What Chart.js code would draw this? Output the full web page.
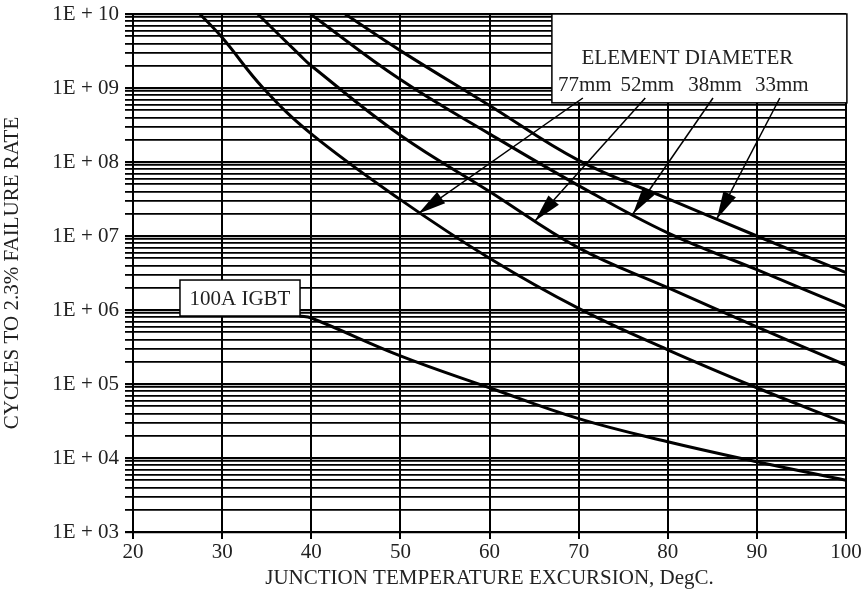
<!DOCTYPE html>
<html>
<head>
<meta charset="utf-8">
<script src="https://cdn.jsdelivr.net/npm/chart.js@4.4.1/dist/chart.umd.min.js"></script>
<style>
  body { margin: 0; background: #fff; }
  #wrap { width: 866px; height: 591px; }
</style>
</head>
<body>
<div id="wrap"><canvas id="cycles_Chart" width="866" height="591"></canvas></div>
<script>
// curves: [temperature excursion, cycles]
var igbtX = [38.7, 40, 50, 60, 70, 80, 90, 100];
var igbtY = [8.3e5, 7.8e5, 2.4e5, 8.9e4, 3.4e4, 1.66e4, 8.9e3, 5.0e3];

var d77X = [27.5, 30, 34.6, 40, 50, 60, 70, 80, 90, 100];
var d77Y = [1e10, 4.8e9, 1.0e9, 2.4e8, 3.1e7, 5.0e6, 1.05e6, 2.9e5, 8.9e4, 2.95e4];

var d52X = [34.0, 38.7, 40, 50, 60, 70, 80, 90, 100];
var d52Y = [1e10, 2.8e9, 2.0e9, 2.3e8, 4.0e7, 6.9e6, 2.0e6, 5.9e5, 1.8e5];

var d38X = [39.9, 50, 60, 70, 80, 90, 100];
var d38Y = [1e10, 1.3e9, 2.4e8, 4.8e7, 1.1e7, 3.5e6, 1.1e6];

var d33X = [43.8, 50, 60, 70, 80, 90, 100];
var d33Y = [1e10, 3.2e9, 5.8e8, 1.05e8, 3.2e7, 1.0e7, 3.2e6];

var xTicks = [20, 30, 40, 50, 60, 70, 80, 90, 100];
var yDecades = [3, 4, 5, 6, 7, 8, 9, 10];
var yTickLabels = ['1E + 03', '1E + 04', '1E + 05', '1E + 06', '1E + 07', '1E + 08', '1E + 09', '1E + 10'];

var diameters = ['77mm', '52mm', '38mm', '33mm'];
// label centre x and arrow tip (x, cycles) for each diameter
var diamLabelX = [70.7, 77.7, 85.3, 92.8];
var arrowTipX = [52.0, 65.1, 76.1, 85.5];
var arrowTipY = [2.0e7, 1.6e7, 2.0e7, 1.7e7];

function pts(xs, ys) {
    let out = new Array();
    for (let i = 0; i < xs.length; i++) {
        out.push({x: xs[i], y: ys[i]});
    }
    return out;
}

// every decade plus the 2..9 minor lines
var yTickValues = new Array();
for (let i = 0; i < yDecades.length; i++) {
    let base = Math.pow(10, yDecades[i]);
    yTickValues.push(base);
    if (i < yDecades.length - 1) {
        for (let k = 2; k <= 9; k++) yTickValues.push(k * base);
    }
}

var serif = "'Liberation Serif', 'Times New Roman', serif";
var ink = '#222';

function curve(xs, ys) {
    return {
        data: pts(xs, ys),
        borderColor: '#000',
        borderWidth: 3,
        pointRadius: 0,
        fill: false,
        tension: 0.4
    };
}

var notes = {
    id: 'notes',
    afterDatasetsDraw: function(chart) {
        let ctx = chart.ctx;
        let xs = chart.scales.x, ys = chart.scales.y;
        ctx.save();
        ctx.font = '21px ' + serif;
        ctx.fillStyle = ink;
        ctx.textAlign = 'center';
        ctx.textBaseline = 'middle';

        // element diameter box
        let bl = xs.getPixelForValue(67.0), br = xs.getPixelForValue(100.1);
        let bt = ys.getPixelForValue(1e10), bb = ys.getPixelForValue(6.3e8);
        ctx.fillStyle = '#fff';
        ctx.fillRect(bl, bt, br - bl, bb - bt);
        ctx.strokeStyle = '#000';
        ctx.lineWidth = 1.5;
        ctx.strokeRect(bl, bt, br - bl, bb - bt);
        ctx.fillStyle = ink;
        ctx.fillText('ELEMENT DIAMETER', xs.getPixelForValue(82.2), ys.getPixelForValue(Math.pow(10, 9.405)));
        let ly = ys.getPixelForValue(Math.pow(10, 9.04));
        let sy = ys.getPixelForValue(Math.pow(10, 8.865));
        for (let i = 0; i < diameters.length; i++) {
            let lx = xs.getPixelForValue(diamLabelX[i]);
            ctx.fillText(diameters[i], lx, ly);
            let tx = xs.getPixelForValue(arrowTipX[i]), ty = ys.getPixelForValue(arrowTipY[i]);
            let sx = lx - 2;
            ctx.beginPath();
            ctx.moveTo(sx, sy);
            ctx.lineTo(tx, ty);
            ctx.lineWidth = 1.5;
            ctx.strokeStyle = '#000';
            ctx.stroke();
            let a = Math.atan2(ty - sy, tx - sx);
            let len = 28, hw = 7;
            ctx.beginPath();
            ctx.moveTo(tx, ty);
            ctx.lineTo(tx - len * Math.cos(a) + hw * Math.sin(a), ty - len * Math.sin(a) - hw * Math.cos(a));
            ctx.lineTo(tx - len * Math.cos(a) - hw * Math.sin(a), ty - len * Math.sin(a) + hw * Math.cos(a));
            ctx.closePath();
            ctx.fillStyle = '#000';
            ctx.fill();
            ctx.fillStyle = ink;
        }

        // 100A IGBT box
        let il = xs.getPixelForValue(25.27), ir = xs.getPixelForValue(38.74);
        let it = ys.getPixelForValue(Math.pow(10, 6.405)), ib = ys.getPixelForValue(Math.pow(10, 5.919));
        ctx.fillStyle = '#fff';
        ctx.fillRect(il, it, ir - il, ib - it);
        ctx.strokeRect(il, it, ir - il, ib - it);
        ctx.fillStyle = ink;
        ctx.fillText('100A IGBT', (il + ir) / 2, (it + ib) / 2 + 1);
        ctx.restore();
    }
};

var cyclesChart = new Chart(document.getElementById('cycles_Chart'), {
    type: 'line',
    data: {
        datasets: [
            curve(igbtX, igbtY),
            curve(d77X, d77Y),
            curve(d52X, d52Y),
            curve(d38X, d38Y),
            curve(d33X, d33Y)
        ]
    },
    options: {
        responsive: false,
        animation: false,
        layout: { padding: { top: 14, right: 20, left: 0, bottom: 0 } },
        plugins: { legend: { display: false }, tooltip: { enabled: false } },
        scales: {
            x: {
                type: 'linear',
                min: 20,
                max: 100,
                afterBuildTicks: function(scale) {
                    scale.ticks = xTicks.map(function(v) { return {value: v}; });
                },
                afterFit: function(scale) { scale.height = 59; },
                ticks: { autoSkip: false, color: ink, font: { family: serif, size: 21 }, padding: 1, maxRotation: 0 },
                grid: { color: '#000', lineWidth: 2, tickLength: 7 },
                border: { color: '#000', width: 2 },
                title: {
                    display: true,
                    text: 'JUNCTION TEMPERATURE EXCURSION, DegC.',
                    color: ink,
                    font: { family: serif, size: 21 },
                    padding: { top: 0, bottom: 0 }
                }
            },
            y: {
                type: 'logarithmic',
                min: 1e3,
                max: 1e10,
                afterBuildTicks: function(scale) {
                    scale.ticks = yTickValues.map(function(v) { return {value: v}; });
                },
                afterFit: function(scale) {
                    scale.width = 133;
                    scale.paddingTop = 0;
                    scale.paddingBottom = 0;
                },
                ticks: {
                    autoSkip: false,
                    color: ink,
                    font: { family: serif, size: 21 },
                    padding: 6,
                    callback: function(v) {
                        let e = Math.round(Math.log10(v));
                        if (Math.abs(v - Math.pow(10, e)) < v * 1e-6) return yTickLabels[yDecades.indexOf(e)];
                        return '';
                    }
                },
                grid: {
                    color: '#000',
                    lineWidth: function(c) {
                        let v = c.tick ? c.tick.value : 0;
                        let e = Math.round(Math.log10(v));
                        return Math.abs(v - Math.pow(10, e)) < v * 1e-6 ? 2.2 : 1.8;
                    },
                    tickLength: 8
                },
                border: { color: '#000', width: 2 },
                title: {
                    display: true,
                    text: 'CYCLES TO 2.3% FAILURE RATE',
                    color: ink,
                    font: { family: serif, size: 21 },
                    padding: { top: 0, bottom: 0 }
                }
            }
        }
    },
    plugins: [notes]
});
</script>
</body>
</html>
